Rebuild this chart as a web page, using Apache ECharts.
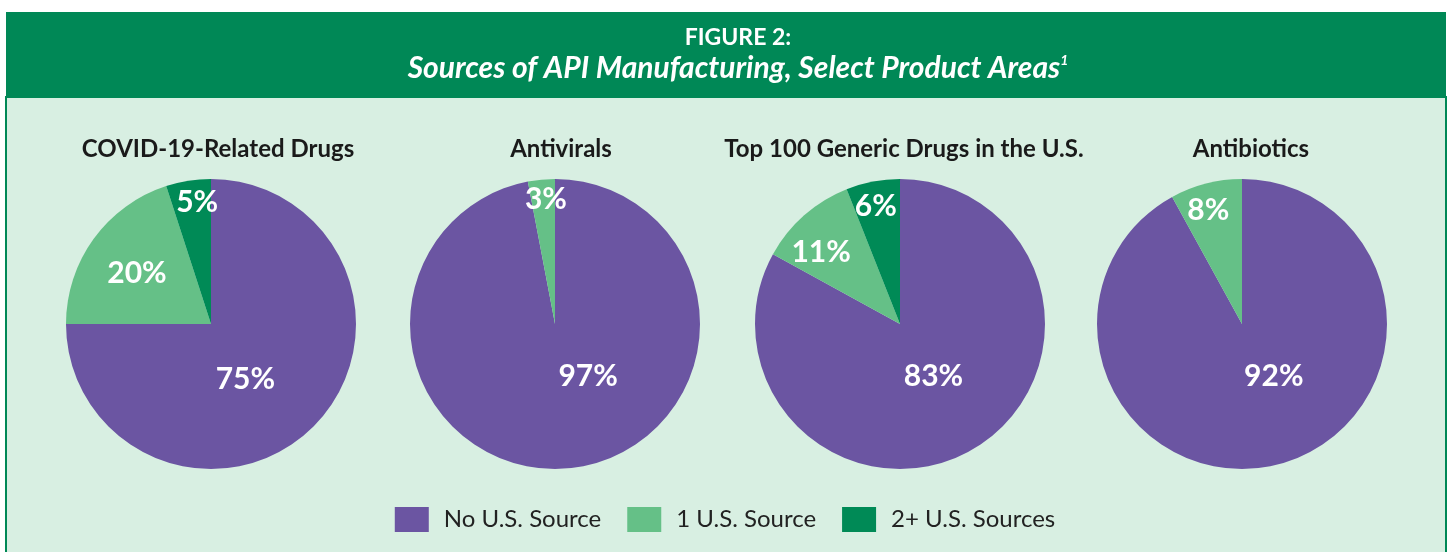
<!DOCTYPE html>
<html><head><meta charset="utf-8">
<script src="https://cdn.jsdelivr.net/npm/echarts@6/dist/echarts.min.js"></script>
<style>html,body{margin:0;padding:0;background:#fff;}#c{width:1450px;height:552px;}</style>
</head><body><div id="c"></div>
<script>
const figureLabel = 'FIGURE 2:';
const figureTitle = 'Sources of API Manufacturing, Select Product Areas';
const categories = ['No U.S. Source', '1 U.S. Source', '2+ U.S. Sources'];
const panelTitles = ['COVID-19-Related Drugs', 'Antivirals', 'Top 100 Generic Drugs in the U.S.', 'Antibiotics'];
const covidValues = [75, 20, 5];
const antiviralValues = [97, 3, 0];
const genericValues = [83, 11, 6];
const antibioticValues = [92, 8, 0];
const panelValues = [covidValues, antiviralValues, genericValues, antibioticValues];

// styling / layout (not data)
const colors = ['#6B55A2', '#65C087', '#008A56'];
const centersX = [211, 555, 900, 1242];
const titleX = [213, 556, 899, 1246];
const labelOffsets = [
  [[-19, 2], [-13, -6], [-2, -47]],
  [[26, -23], [-2, -50], [0, 0]],
  [[-5, -13], [-29, -15], [-10, -44]],
  [[13, -21], [-15, -41], [0, 0]]
];
const FONT = 'Lato, "Noto Sans", sans-serif';

const chart = echarts.init(document.getElementById('c'), null, {renderer: 'canvas'});

const series = panelValues.map((vals, i) => ({
  type: 'pie',
  center: [centersX[i], 324],
  radius: 145,
  startAngle: 90,
  clockwise: true,
  silent: true,
  animation: false,
  itemStyle: {borderWidth: 0},
  labelLine: {show: false},
  label: {
    show: true, position: 'inside', color: '#fff',
    fontFamily: FONT, fontWeight: 'bold', fontSize: 30,
    formatter: p => p.value + '%'
  },
  data: categories.map((c, k) => ({
    name: c, value: vals[k],
    itemStyle: {color: colors[k]},
    label: {offset: labelOffsets[i][k], show: vals[k] > 0}
  })).filter(d => d.value > 0)
}));

const titles = [
  {text: figureLabel, left: 733, top: 21, textAlign: 'center',
   textStyle: {color: '#fff', fontFamily: FONT, fontWeight: 'bold', fontSize: 23}},
  {text: '{t|' + figureTitle + '}{s|1}', left: 733, top: 48, textAlign: 'center',
   textStyle: {rich: {
     t: {color: '#fff', fontFamily: FONT, fontStyle: 'italic', fontSize: 30, verticalAlign: 'bottom'},
     s: {color: '#fff', fontFamily: FONT, fontStyle: 'italic', fontSize: 14, verticalAlign: 'top', padding: [0,0,16,0]}
   }}}
].concat(panelTitles.map((t, i) => ({
  text: t, left: titleX[i], top: 132, textAlign: 'center',
  textStyle: {color: '#1a1a1a', fontFamily: FONT, fontWeight: 'bold', fontSize: 24}
})));

chart.setOption({
  backgroundColor: '#ffffff',
  animation: false,
  color: colors,
  graphic: [
    {type: 'rect', z: -10, shape: {x: 6, y: 97, width: 1440, height: 460},
     style: {fill: '#D8EFE2', stroke: '#008856', lineWidth: 2}},
    {type: 'rect', z: -9, shape: {x: 6, y: 12, width: 1440, height: 86},
     style: {fill: '#008856'}}
  ],
  title: titles,
  legend: {
    show: true, bottom: 15, left: 'center',
    itemWidth: 34, itemHeight: 25, itemGap: 26,
    icon: 'rect', selectedMode: false,
    data: categories,
    textStyle: {color: '#222', fontFamily: FONT, fontSize: 24, padding: [0, 0, 0, 10]}
  },
  series: series
});
</script></body></html>
